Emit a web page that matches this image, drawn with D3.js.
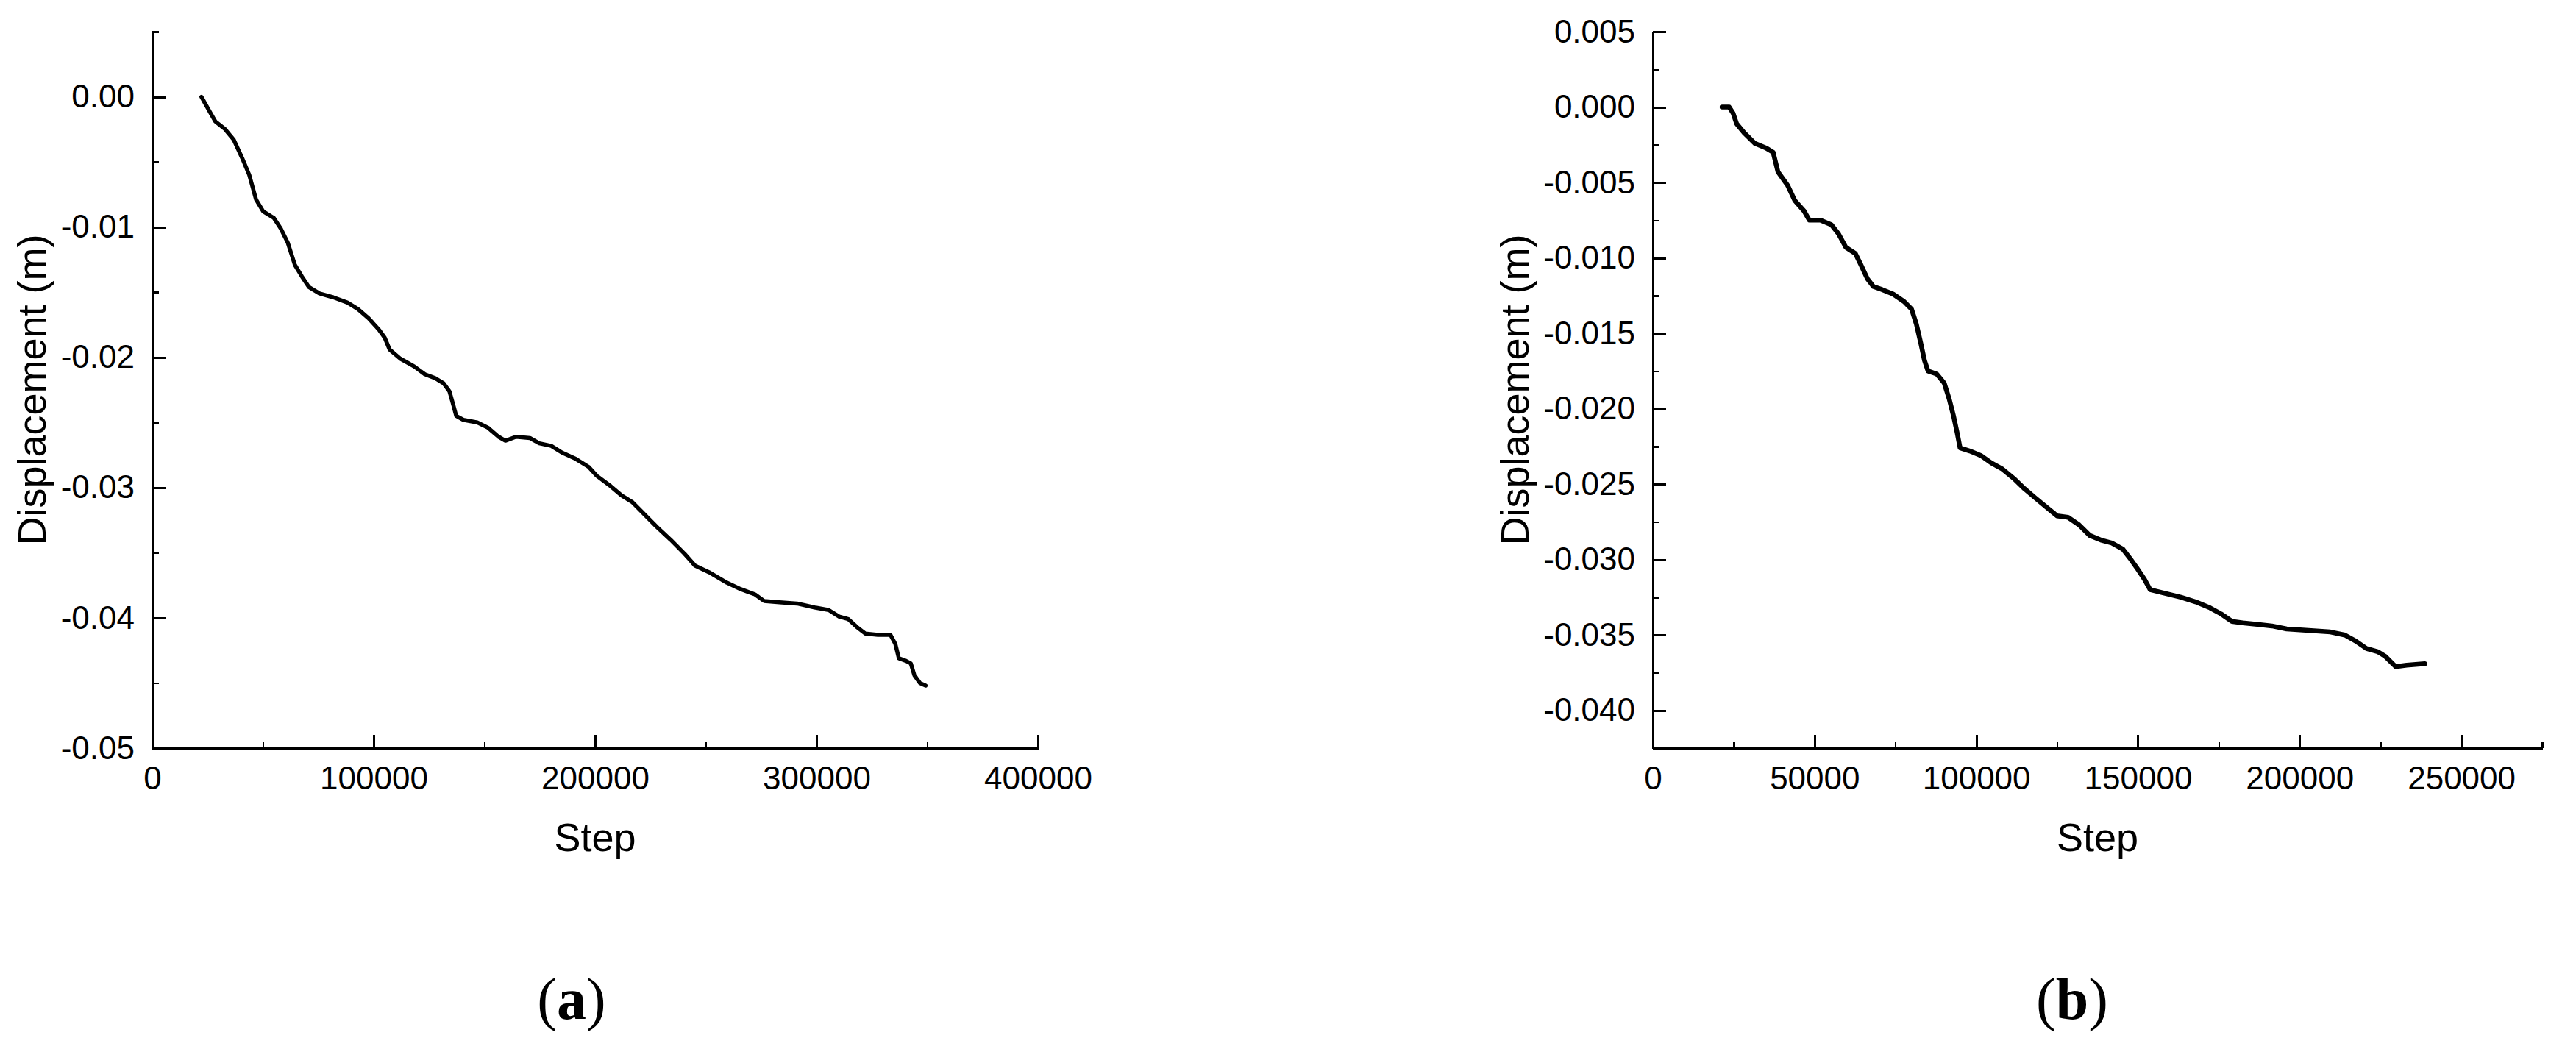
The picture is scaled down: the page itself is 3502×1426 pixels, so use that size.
<html lang='en'>

<head>
    <meta content='text/html; charset=utf-8' http-equiv='Content-Type'>
    <title>Displacement vs Step</title>

    <script src="https://d3js.org/d3.v7.min.js"></script>
    <style>
        body {
            margin: 0;
            background: #fff;
        }

        .axis text {
            font-family: "Liberation Sans", Arial, sans-serif;
            font-size: 44px;
            fill: #000;
        }

        .axis path,
        .axis line {
            fill: none;
            stroke: #000;
            stroke-width: 3px;
            shape-rendering: crispEdges;
        }

        .minor line {
            stroke-width: 2.5px;
        }

        .title {
            font-family: "Liberation Sans", Arial, sans-serif;
            font-size: 54px;
            fill: #000;
        }

        .panel {
            font-family: "Liberation Serif", "Times New Roman", serif;
            font-size: 80px;
            fill: #000;
        }

        .line {
            fill: none;
            stroke: #000;
            stroke-linejoin: round;
            stroke-linecap: round;
        }
    </style>
</head>

<body>
    <script>
// panel (a)
var stepsA = [22200, 26300, 28500, 32700, 36800, 40600, 43800, 46900, 50100, 54900,
    58000, 61200, 64400, 67600, 70700, 75500, 81800, 88200, 92900, 97700,
    102500, 105000, 107200, 112000, 118300, 123100, 127800, 131600, 134200, 135700,
    137300, 140500, 146800, 151600, 156400, 159500, 164300, 170600, 174800, 180200,
    184900, 191300, 197000, 200800, 207100, 211900, 216700, 221400, 227800, 234100,
    240500, 245200, 251500, 259500, 265800, 272200, 276300, 283300, 291200, 299100,
    305500, 310200, 314400, 318200, 322000, 327700, 333400, 335600, 337200, 340400,
    342600, 344200, 346700, 349300];
var dispA = [0, -0.00125, -0.0019, -0.00246, -0.0033, -0.0047, -0.006, -0.0079, -0.0088, -0.0093,
    -0.0101, -0.0112, -0.0129, -0.0138, -0.0146, -0.0151, -0.0154, -0.0158, -0.0163, -0.017,
    -0.0179, -0.0185, -0.0194, -0.0201, -0.0207, -0.0213, -0.0216, -0.022, -0.0226, -0.0235,
    -0.0245, -0.0248, -0.025, -0.0254, -0.0261, -0.0264, -0.0261, -0.0262, -0.0266, -0.0268,
    -0.0273, -0.0278, -0.0284, -0.0291, -0.0299, -0.0306, -0.0311, -0.0319, -0.033, -0.034,
    -0.0351, -0.036, -0.0365, -0.0373, -0.0378, -0.0382, -0.0387, -0.0388, -0.0389, -0.0392,
    -0.0394, -0.0399, -0.0401, -0.0407, -0.0412, -0.0413, -0.0413, -0.042, -0.0431, -0.0433,
    -0.0435, -0.0444, -0.045, -0.0452];
var xTicksA = [0, 100000, 200000, 300000, 400000];
var xMinorA = [50000, 150000, 250000, 350000];
var yTicksA = [0, -0.01, -0.02, -0.03, -0.04, -0.05];
var yMinorA = [0.005, -0.005, -0.015, -0.025, -0.035, -0.045];

// panel (b)
var stepsB = [21400, 23600, 24800, 25900, 28200, 31500, 34900, 37200, 38700, 41700,
    43900, 46800, 48400, 51800, 55200, 57400, 59700, 62600, 64200, 66400,
    68200, 70900, 74300, 77700, 80000, 81500, 82900, 84000, 85100, 87800,
    90100, 91700, 93000, 94100, 95000, 98000, 101400, 104700, 108100, 111500,
    114900, 118200, 121600, 125000, 128400, 131800, 135100, 138500, 141900, 145300,
    147500, 149800, 152000, 153800, 157700, 163300, 167800, 172300, 175700, 179100,
    182400, 186900, 191400, 196000, 202700, 209500, 214000, 217300, 220700, 224100,
    226400, 229700, 233100, 238700];
var dispB = [0, 0, -0.0004, -0.0011, -0.0017, -0.0024, -0.0027, -0.003, -0.0043, -0.0052,
    -0.0062, -0.0069, -0.0075, -0.0075, -0.0078, -0.0084, -0.0093, -0.0097, -0.0104, -0.0114,
    -0.0119, -0.0121, -0.0124, -0.0129, -0.0134, -0.0144, -0.0157, -0.0168, -0.0175, -0.0177,
    -0.0183, -0.0194, -0.0205, -0.0216, -0.0226, -0.0228, -0.0231, -0.0236, -0.024, -0.0246,
    -0.0253, -0.0259, -0.0265, -0.0271, -0.0272, -0.0277, -0.0284, -0.0287, -0.0289, -0.0293,
    -0.0299, -0.0306, -0.0313, -0.032, -0.0322, -0.0325, -0.0328, -0.0332, -0.0336, -0.0341,
    -0.0342, -0.0343, -0.0344, -0.0346, -0.0347, -0.0348, -0.035, -0.0354, -0.0359, -0.0361,
    -0.0364, -0.0371, -0.037, -0.0369];
var xTicksB = [0, 50000, 100000, 150000, 200000, 250000];
var xMinorB = [25000, 75000, 125000, 175000, 225000, 275000];
var yTicksB = [0.005, 0, -0.005, -0.01, -0.015, -0.02, -0.025, -0.03, -0.035, -0.04];
var yMinorB = [0.0025, -0.0025, -0.0075, -0.0125, -0.0175, -0.0225, -0.0275, -0.0325, -0.0375, -0.0425];

var svg = d3.select("body").append("svg")
    .attr("width", 3502)
    .attr("height", 1426);

function hyphen(f) {
    return function(d) { return f(d).replace("\u2212", "-"); };
}

function drawPanel(p) {
    var x = d3.scaleLinear().domain(p.xDomain).range(p.xRange);
    var y = d3.scaleLinear().domain(p.yDomain).range([1017, 43]);

    // minor ticks first, majors and spines on top
    svg.append("g")
        .attr("class", "axis minor")
        .attr("transform", "translate(0,1017)")
        .call(d3.axisBottom(x).tickValues(p.xMinor).tickSizeInner(-9).tickSizeOuter(0).tickFormat(""))
        .select(".domain").remove();

    svg.append("g")
        .attr("class", "axis minor")
        .attr("transform", "translate(" + p.xRange[0] + ",0)")
        .call(d3.axisLeft(y).tickValues(p.yMinor).tickSizeInner(-9).tickSizeOuter(0).tickFormat(""))
        .select(".domain").remove();

    svg.append("g")
        .attr("class", "axis")
        .attr("transform", "translate(0,1017)")
        .call(d3.axisBottom(x).tickValues(p.xTicks).tickSizeInner(-18).tickSizeOuter(0)
            .tickPadding(25).tickFormat(d3.format("d")));

    svg.append("g")
        .attr("class", "axis")
        .attr("transform", "translate(" + p.xRange[0] + ",0)")
        .call(d3.axisLeft(y).tickValues(p.yTicks).tickSizeInner(-18).tickSizeOuter(0)
            .tickPadding(24).tickFormat(hyphen(d3.format(p.yFormat))));

    var line = d3.line()
        .x(function(d) { return x(d[0]); })
        .y(function(d) { return y(d[1]); });

    svg.append("path")
        .datum(d3.zip(p.steps, p.disp))
        .attr("class", "line")
        .attr("stroke-width", p.lineWidth)
        .attr("d", line);

    svg.append("text")
        .attr("class", "title")
        .attr("x", (p.xRange[0] + p.xRange[1]) / 2)
        .attr("y", 1157)
        .attr("text-anchor", "middle")
        .text("Step");

    svg.append("text")
        .attr("class", "title")
        .attr("transform", "translate(" + p.yTitleX + ",530) rotate(-90)")
        .attr("text-anchor", "middle")
        .text("Displacement (m)");

    var tag = svg.append("text")
        .attr("class", "panel")
        .attr("x", p.tagX)
        .attr("y", 1385)
        .attr("text-anchor", "middle");
    tag.append("tspan").text("(");
    tag.append("tspan").attr("font-weight", "bold").text(p.tag);
    tag.append("tspan").text(")");
}

drawPanel({
    steps: stepsA, disp: dispA,
    xDomain: [0, 400000], xRange: [207, 1411],
    yDomain: [-0.05, 0.005],
    xTicks: xTicksA, xMinor: xMinorA, yTicks: yTicksA, yMinor: yMinorA,
    yFormat: ".2f", yTitleX: 62, tagX: 777, tag: "a", lineWidth: 5.5
});

drawPanel({
    steps: stepsB, disp: dispB,
    xDomain: [0, 275000], xRange: [2247, 3456],
    yDomain: [-0.0425, 0.005],
    xTicks: xTicksB, xMinor: xMinorB, yTicks: yTicksB, yMinor: yMinorB,
    yFormat: ".3f", yTitleX: 2078, tagX: 2817, tag: "b", lineWidth: 6.5
});
    </script>
</body>

</html>
